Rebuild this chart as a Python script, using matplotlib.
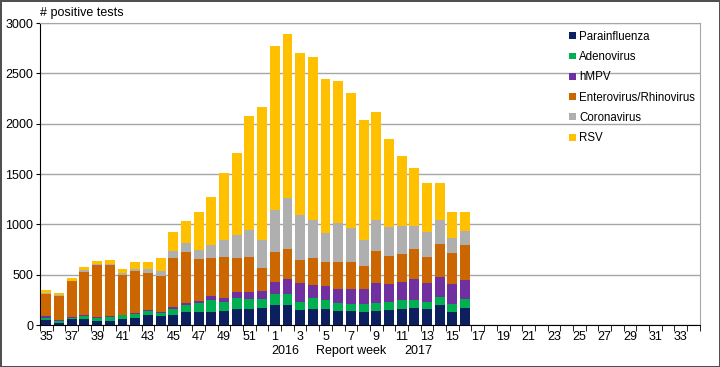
import numpy as np
import matplotlib
matplotlib.use('Agg')
from matplotlib import pyplot as plt
from matplotlib.patches import Patch

plt.rcParams['font.family'] = ['Liberation Sans', 'DejaVu Sans']

# report weeks: 35..52 then 1..34
weeks = list(range(35, 53)) + list(range(1, 35))

parainfluenza = [50, 23, 57, 60, 40, 40, 60, 67, 100, 92, 99, 129, 129, 129, 142, 159, 156, 169,
                 199, 199, 149, 159, 159, 139, 139, 129, 139, 149, 163, 173, 159, 203, 133, 173]
adenovirus = [23, 20, 16, 30, 33, 40, 37, 46, 42, 30, 59, 72, 89, 119, 89, 110, 99, 86,
              109, 109, 83, 106, 93, 80, 70, 77, 80, 83, 84, 79, 70, 79, 76, 89]
hmpv = [14, 10, 4, 10, 7, 10, 3, 7, 10, 10, 20, 17, 20, 39, 33, 59, 70, 87,
        123, 150, 186, 133, 136, 139, 149, 152, 199, 176, 181, 209, 193, 199, 199, 183]
entero = [223, 240, 356, 430, 513, 503, 400, 420, 360, 360, 489, 505, 419, 380, 413, 339, 351, 228,
          295, 298, 232, 272, 242, 269, 269, 229, 321, 282, 282, 299, 258, 329, 312, 355]
corona = [13, 10, 7, 16, 10, 17, 16, 16, 42, 46, 66, 89, 86, 132, 171, 225, 269, 279,
          415, 507, 441, 375, 285, 388, 338, 259, 306, 282, 272, 226, 240, 236, 146, 130]
rsv = [20, 13, 30, 34, 33, 40, 44, 72, 72, 125, 188, 218, 376, 475, 667, 816, 1131, 1316,
       1634, 1632, 1615, 1621, 1529, 1412, 1343, 1193, 1074, 878, 697, 574, 488, 362, 253, 189]

series = [('Parainfluenza', parainfluenza, '#0c1f5e'),
          ('Adenovirus', adenovirus, '#00b050'),
          ('hMPV', hmpv, '#7030a0'),
          ('Enterovirus/Rhinovirus', entero, '#cc6600'),
          ('Coronavirus', corona, '#afafaf'),
          ('RSV', rsv, '#ffc000')]

fig = plt.figure(figsize=(7.2, 3.67), dpi=100)
fig.patch.set_edgecolor('#505050')
fig.patch.set_linewidth(2)
ax = fig.add_axes([0.0556, 0.1144, 0.9164, 0.8226])

x = np.arange(len(parainfluenza))
bottom = np.zeros(len(x))
for name, vals, col in series:
    ax.bar(x, vals, width=0.78, bottom=bottom, color=col, zorder=3)
    bottom += np.array(vals)

ax.set_xlim(-0.5, len(weeks) - 0.5)
ax.set_ylim(0, 3000)
ax.set_yticks(np.arange(0, 3001, 500))
ax.yaxis.grid(True, color='#a6a6a6', linewidth=1, zorder=0)
ax.tick_params(axis='y', length=3, labelsize=9, pad=2)

pos = np.arange(len(weeks))
ax.set_xticks(pos[::2])
ax.set_xticklabels([str(w) for w in weeks[::2]], fontsize=9)
ax.tick_params(axis='x', length=0, pad=4)
ax.set_xticks(np.arange(-0.5, len(weeks), 1), minor=True)
ax.tick_params(axis='x', which='minor', length=4, direction='out')

for s in ['top', 'right']:
    ax.spines[s].set_color('#a6a6a6')
ax.spines['left'].set_color('black')
ax.spines['bottom'].set_color('black')

ax.text(0.0, 1.015, '# positive tests', transform=ax.transAxes, fontsize=9,
        ha='left', va='bottom')

fig.text(285 / 720, 1 - 351 / 367, '2016', fontsize=9, ha='center', va='center')
fig.text(351 / 720, 1 - 351 / 367, 'Report week', fontsize=9, ha='center', va='center')
fig.text(418 / 720, 1 - 351 / 367, '2017', fontsize=9, ha='center', va='center')

handles = [Patch(facecolor=c, label=n) for n, v, c in series]
ax.legend(handles=handles, loc='upper left', bbox_to_anchor=(0.795, 0.99),
          frameon=False, fontsize=8.3, handlelength=0.55, handleheight=0.55,
          handletextpad=0.3, labelspacing=0.72, borderaxespad=0)

plt.savefig('out.png', dpi=100)
